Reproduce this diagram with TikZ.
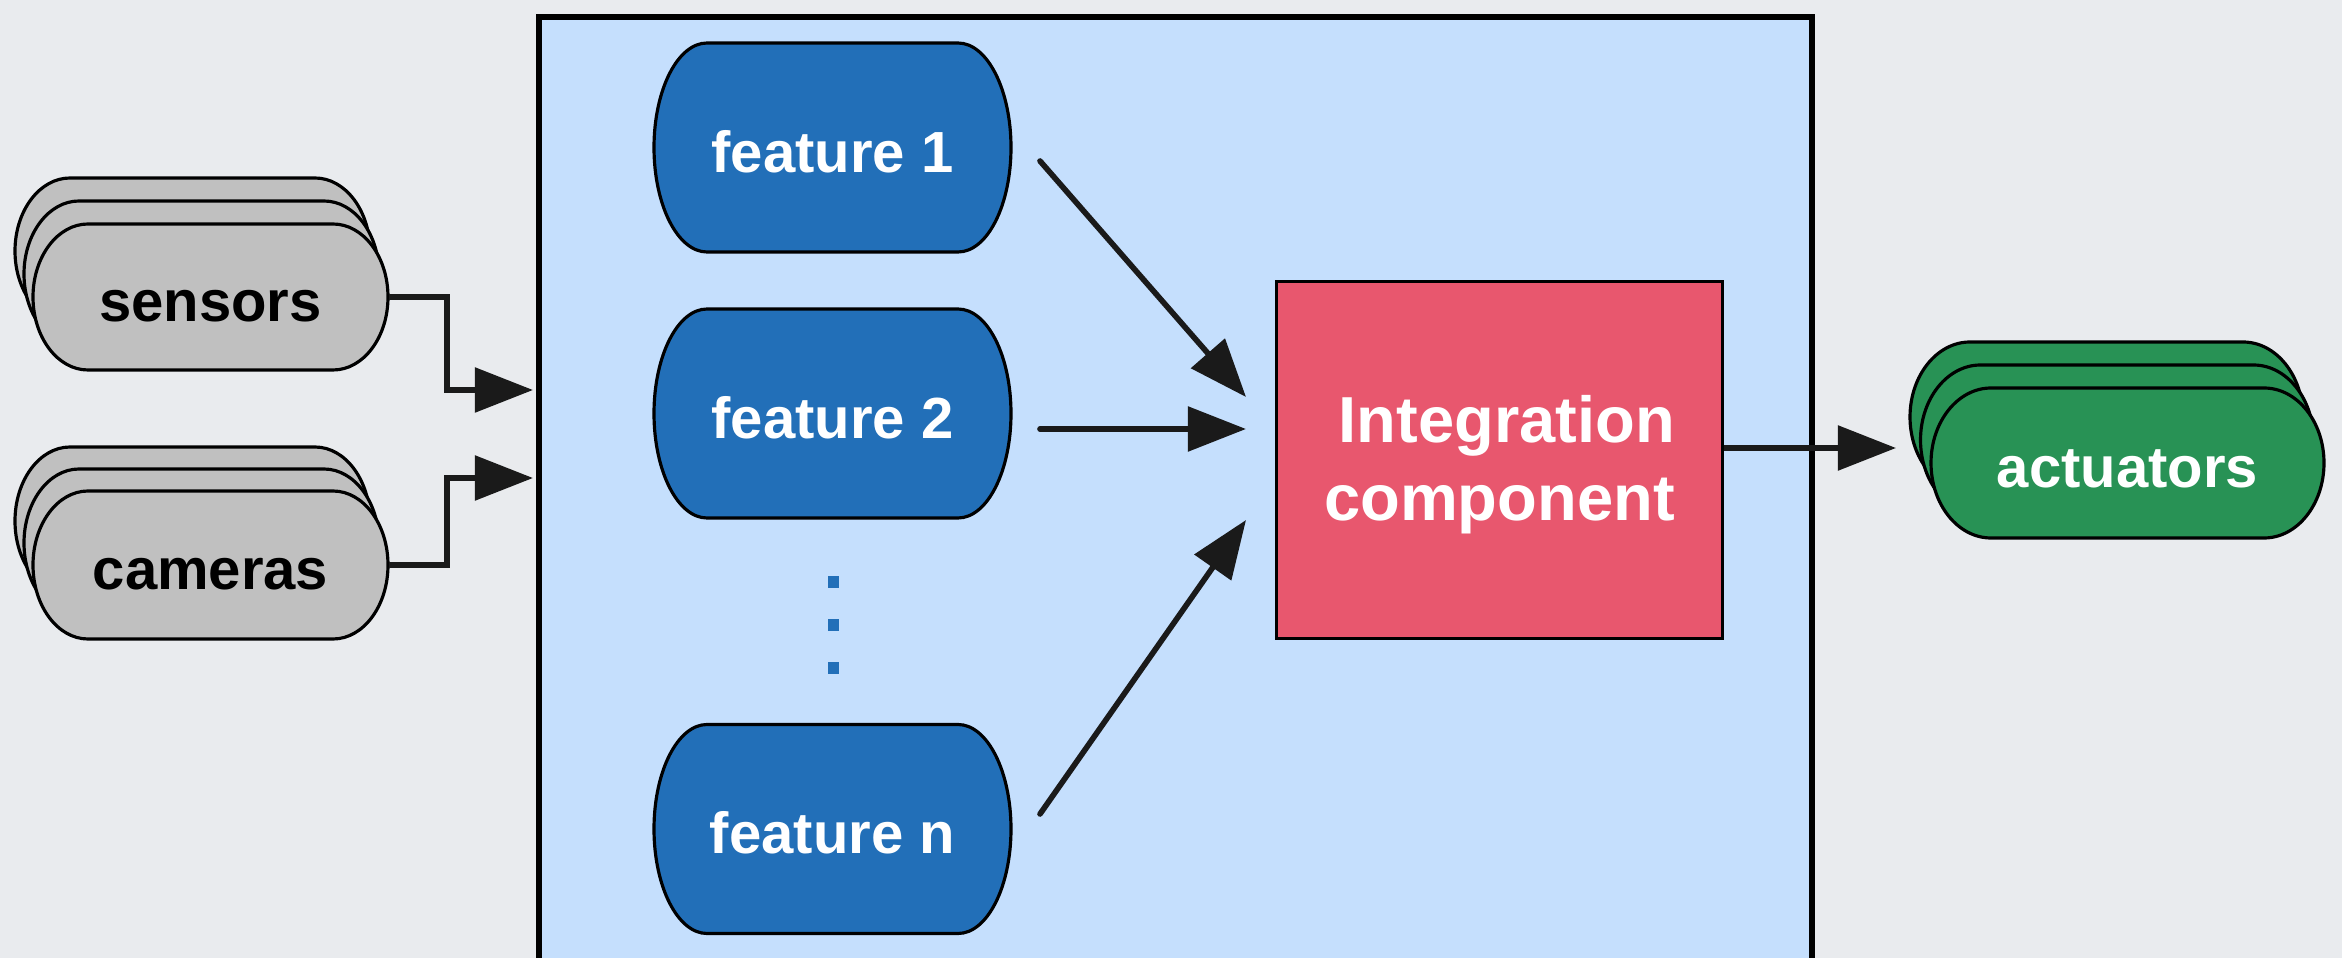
\documentclass[tikz,border=0pt]{standalone}
\usepackage{fontspec}
\setmainfont{Liberation Sans}
\usetikzlibrary{arrows.meta,calc}

\definecolor{bgcol}{RGB}{233,235,238}
\definecolor{panel}{RGB}{197,223,253}
\definecolor{featblue}{RGB}{34,111,184}
\definecolor{integred}{RGB}{232,87,110}
\definecolor{actgreen}{RGB}{40,146,85}
\definecolor{inputgray}{RGB}{192,192,192}
\definecolor{ink}{RGB}{26,26,26}

% Capsule outline: straight top/bottom edges with elliptical end caps.
% #1 centre x, #2 centre y (downwards), #3 half width, #4 half height,
% #5 horizontal cap radius, #6 path options
\newcommand\capsulepath[6]{%
  \path[#6] ({#1-#3+#5},{-(#2)+#4}) -- ({#1+#3-#5},{-(#2)+#4})
    arc[start angle=90,end angle=-90,x radius=#5*0.01cm,y radius=#4*0.01cm]
    -- ({#1-#3+#5},{-(#2)-#4})
    arc[start angle=270,end angle=90,x radius=#5*0.01cm,y radius=#4*0.01cm]
    -- cycle;}

% Three stacked capsules, each one shifted up and left by (#6,#7)
\newcommand\capsulestack[8]{%
  \capsulepath{#1-2*#6}{#2-2*#7}{#3}{#4}{#5}{outline,fill=#8}
  \capsulepath{#1-#6}{#2-#7}{#3}{#4}{#5}{outline,fill=#8}
  \capsulepath{#1}{#2}{#3}{#4}{#5}{outline,fill=#8}}

\begin{document}
\begin{tikzpicture}[x=0.01cm,y=0.01cm,
  outline/.style={draw=black,line width=0.9pt,line join=round},
  lbl/.style={font=\bfseries\fontsize{16.5pt}{19pt}\selectfont,inner sep=0pt,
    text height=14pt,text depth=0pt},
  conn/.style={draw=ink,line width=1.6pt,
    -{Triangle[length=16.5pt,width=12.5pt]}},
  dotmark/.style={fill=featblue,inner sep=0pt,minimum size=0.11cm}]

% canvas
\fill[bgcol] (0,0) rectangle (2342,-958);
\clip (0,0) rectangle (2342,-958);
\useasboundingbox (0,0) rectangle (2342,-958);

% processing panel (runs off the bottom edge)
\node[draw=black,line width=1.7pt,fill=panel,inner sep=0pt,
  minimum width=12.72cm,minimum height=10cm,anchor=north west]
  (frame) at (536,-14.5) {};

% inputs
\capsulestack{210.5}{297}{177.5}{73}{55}{9}{23}{inputgray}
\node[lbl,minimum width=3.55cm,minimum height=1.46cm] (sensors)
  at (210.5,-297) {sensors};
\capsulestack{210.5}{565}{177.5}{74}{55}{9}{22}{inputgray}
\node[lbl,minimum width=3.55cm,minimum height=1.48cm] (cameras)
  at (210.5,-565) {cameras};

% feature extractors
\capsulepath{832.5}{147.5}{178.5}{104.5}{53}{outline,fill=featblue}
\node[lbl,text=white,minimum width=3.57cm,minimum height=2.09cm] (f1)
  at (832.5,-147.5) {feature 1};
\capsulepath{832.5}{413.5}{178.5}{104.5}{53}{outline,fill=featblue}
\node[lbl,text=white,minimum width=3.57cm,minimum height=2.09cm] (f2)
  at (832.5,-413.5) {feature 2};
\capsulepath{832.5}{829}{178.5}{104.5}{53}{outline,fill=featblue}
\node[lbl,text=white,minimum width=3.57cm,minimum height=2.09cm] (fn)
  at (832.5,-829) {feature n};

\node[dotmark] (d1) at (833,-582) {};
\node[dotmark] (d2) at (833,-625) {};
\node[dotmark] (d3) at (833,-668) {};

% integration
\node[draw=black,line width=0.9pt,fill=integred,text=white,
  minimum width=4.45cm,minimum height=3.56cm,align=right,
  font=\bfseries\fontsize{18.5pt}{22.2pt}\selectfont] (integ)
  at (1499.5,-460) {\rule{0pt}{0.88em}Integration\\component};

% outputs
\capsulestack{2127.5}{463}{196.5}{75}{60}{10.5}{23}{actgreen}
\node[lbl,text=white,minimum width=3.93cm,minimum height=1.5cm] (act)
  at (2127.5,-463) {actuators};

% connector end points
\coordinate (jx) at (447,0);
\coordinate (sin) at (533,-390);
\coordinate (cin) at (533,-478);
\coordinate (f1out) at (1040,-161);
\coordinate (f2out) at (1040,-429);
\coordinate (fnout) at (1040,-814);
\coordinate (in1) at (1246,-397);
\coordinate (in2) at (1246,-429);
\coordinate (inn) at (1246,-520);
\coordinate (actin) at (1896,-448);

% connectors
\draw[conn] (sensors.east) -| (jx |- sin) -- (sin);
\draw[conn] (cameras.east) -| (jx |- cin) -- (cin);
\draw[conn,line cap=round] (f1out) -- (in1);
\draw[conn,line cap=round] (f2out) -- (in2);
\draw[conn,line cap=round] (fnout) -- (inn);
\draw[conn] (integ.east |- actin) -- (actin);
\end{tikzpicture}
\end{document}
